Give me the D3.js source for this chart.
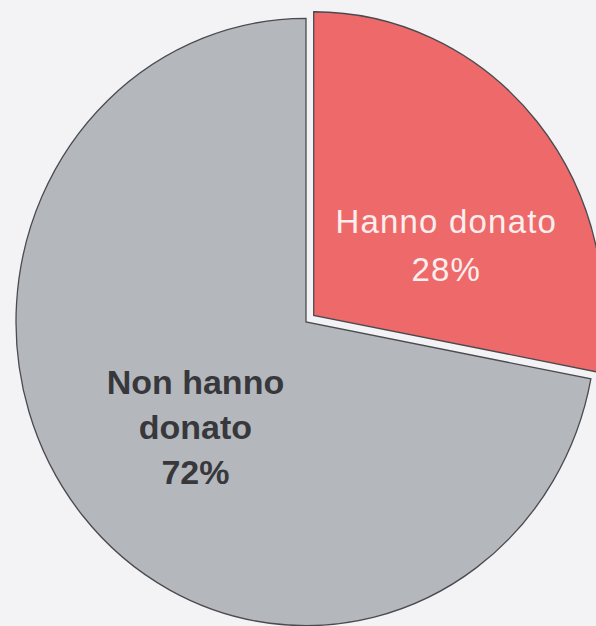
<!DOCTYPE html>
<html>
<head>
<meta charset="utf-8">
<script src="https://cdn.jsdelivr.net/npm/d3@7"></script>
<style>
  body { margin: 0; background: #f3f3f5; }
  svg { display: block; }
</style>
</head>
<body>
<div id="chart"></div>
<script>
// data
var categories = ["Hanno donato", "Non hanno donato"];
var values = [28, 72];
var labelLines = [["Hanno donato", "28%"], ["Non hanno", "donato", "72%"]];
var colors = ["#ee6a6a", "#b4b8bd"];

var W = 596, H = 626;
var cx = 306, cy = 322, r = 290, yStretch = 1.047;

var svg = d3.select("#chart").append("svg")
    .attr("width", W)
    .attr("height", H);

var pie = d3.pie().sort(null).value(function(d) { return d; });
var arcs = pie(values);

var arc = d3.arc().innerRadius(0).outerRadius(r);
var labelArc = d3.arc().innerRadius(150).outerRadius(150);

// exploded distance per slice (first slice pulled out)
var explode = [10, 0];
// small label nudges
var nudge = [[17, 30], [5, 5]];

var g = svg.append("g")
    .attr("transform", "translate(" + cx + "," + cy + ") scale(1," + yStretch + ")");

g.selectAll("path")
    .data(arcs)
  .enter().append("path")
    .attr("d", arc)
    .attr("fill", function(d, i) { return colors[i]; })
    .attr("stroke", "#4a4a50")
    .attr("stroke-width", 1.3)
    .attr("transform", function(d, i) {
      var a = (d.startAngle + d.endAngle) / 2;
      return "translate(" + (Math.sin(a) * explode[i]) + "," + (-Math.cos(a) * explode[i]) + ")";
    });

// labels
arcs.forEach(function(d, i) {
  var c = labelArc.centroid(d);
  var a = (d.startAngle + d.endAngle) / 2;
  var x = cx + c[0] + Math.sin(a) * explode[i] + nudge[i][0];
  var y = cy + c[1] * yStretch - Math.cos(a) * explode[i] + nudge[i][1];
  var lines = labelLines[i];
  var red = i === 0;
  var lh = red ? 48 : 45;
  var t = svg.append("text")
      .attr("x", x)
      .attr("text-anchor", "middle")
      .style("font-family", "'Liberation Sans', Arial, sans-serif")
      .style("font-size", red ? "33px" : "34px")
      .style("font-weight", red ? "normal" : "bold")
      .style("letter-spacing", red ? "1.2px" : "0px")
      .attr("fill", red ? "#fbeeee" : "#38383c");
  var top = y - (lines.length - 1) * lh / 2;
  lines.forEach(function(s, j) {
    t.append("tspan")
      .attr("x", x)
      .attr("y", top + j * lh)
      .attr("dy", "0.35em")
      .text(s);
  });
});
</script>
</body>
</html>
